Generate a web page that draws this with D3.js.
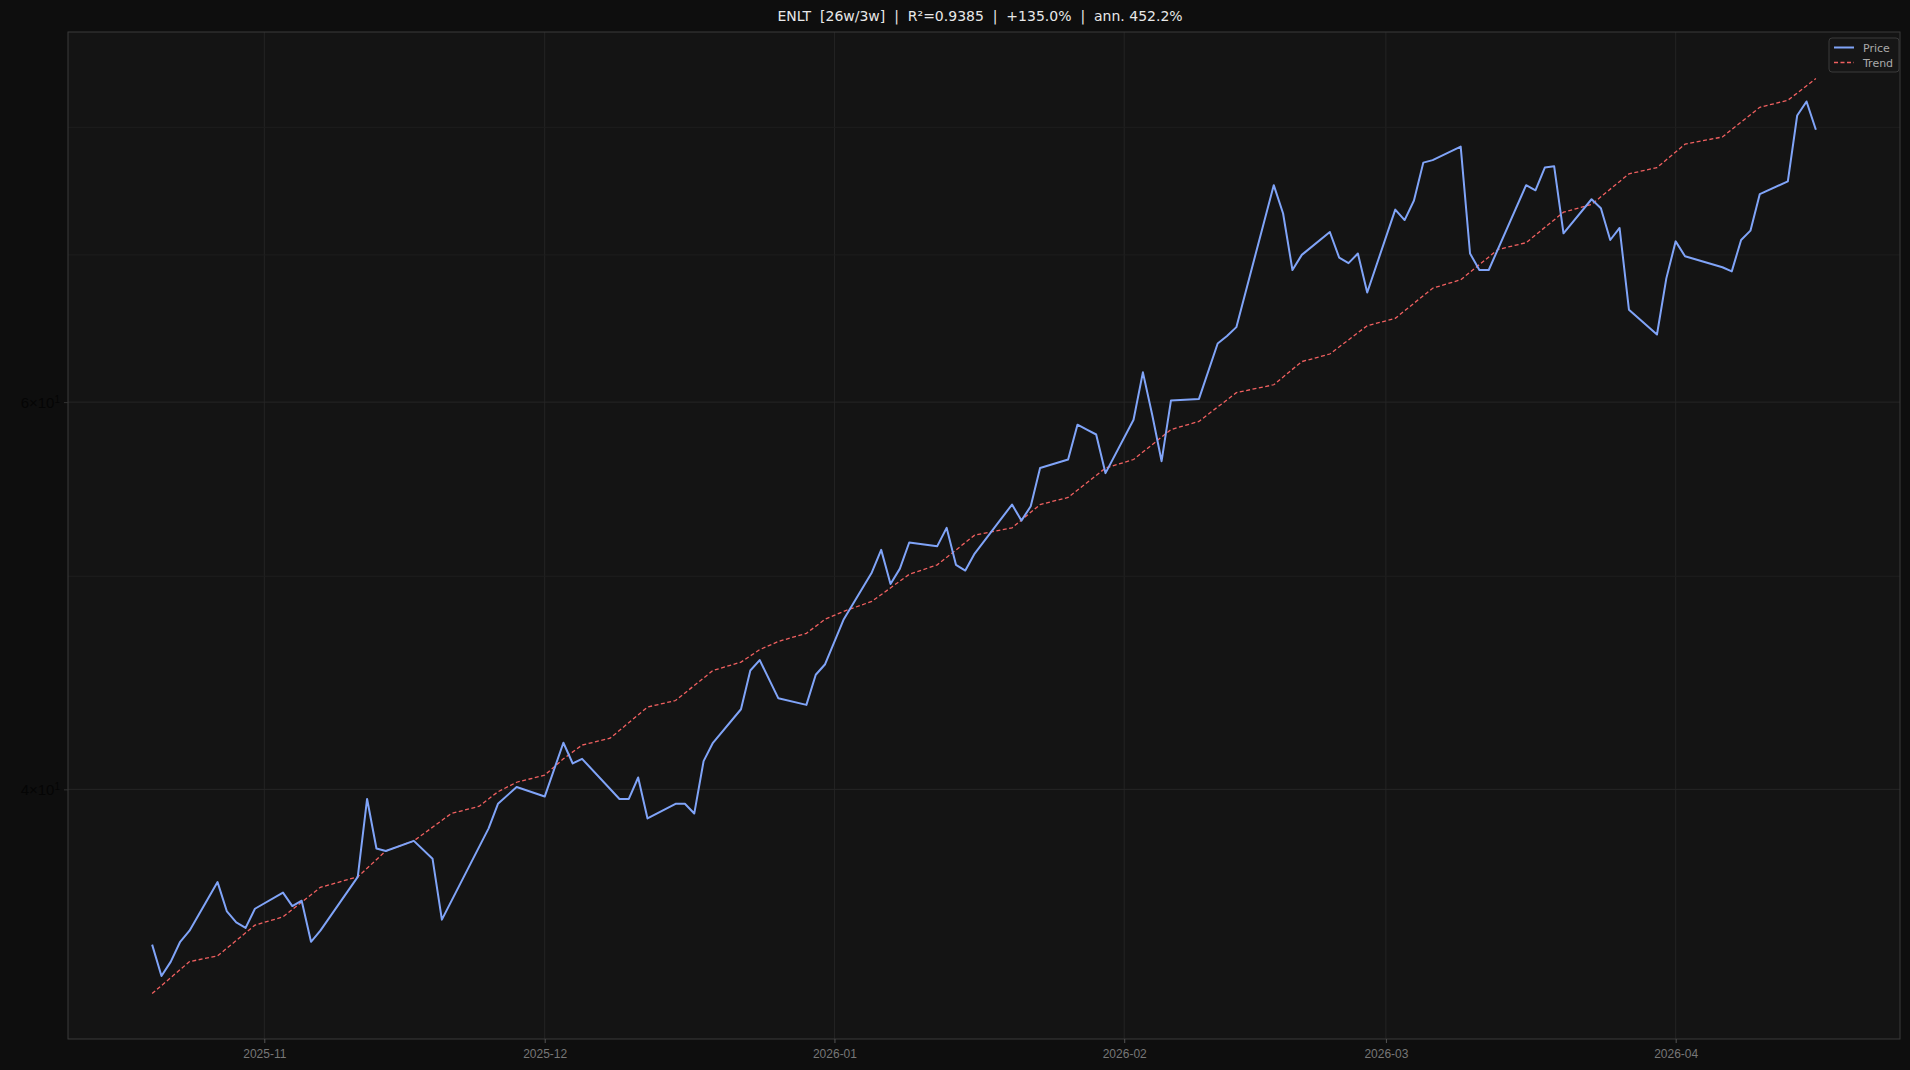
<!DOCTYPE html>
<html><head><meta charset="utf-8">
<script src="https://cdn.jsdelivr.net/npm/d3@7"></script>
<style>
body{margin:0;background:#0e0e0e;}
svg{display:block;font-family:"DejaVu Sans",sans-serif;}
</style></head><body>
<script>
var priceDates = ["2025-10-20","2025-10-21","2025-10-22","2025-10-23","2025-10-24","2025-10-27","2025-10-28","2025-10-29","2025-10-30","2025-10-31",
"2025-11-03","2025-11-04","2025-11-05","2025-11-06","2025-11-07","2025-11-11","2025-11-12","2025-11-13","2025-11-14","2025-11-17","2025-11-19","2025-11-20","2025-11-25","2025-11-26","2025-11-28",
"2025-12-01","2025-12-03","2025-12-04","2025-12-05","2025-12-09","2025-12-10","2025-12-11","2025-12-12","2025-12-15","2025-12-16","2025-12-17","2025-12-18","2025-12-19","2025-12-22","2025-12-23","2025-12-24","2025-12-26","2025-12-29","2025-12-30","2025-12-31",
"2026-01-02","2026-01-05","2026-01-06","2026-01-07","2026-01-08","2026-01-09","2026-01-12","2026-01-13","2026-01-14","2026-01-15","2026-01-16","2026-01-20","2026-01-21","2026-01-22","2026-01-23","2026-01-26","2026-01-27","2026-01-28","2026-01-29","2026-01-30",
"2026-02-02","2026-02-03","2026-02-04","2026-02-05","2026-02-06","2026-02-09","2026-02-11","2026-02-12","2026-02-13","2026-02-17","2026-02-18","2026-02-19","2026-02-20","2026-02-23","2026-02-24","2026-02-25","2026-02-26","2026-02-27",
"2026-03-02","2026-03-03","2026-03-04","2026-03-05","2026-03-06","2026-03-09","2026-03-10","2026-03-11","2026-03-12","2026-03-16","2026-03-17","2026-03-18","2026-03-19","2026-03-20","2026-03-23","2026-03-24","2026-03-25","2026-03-26","2026-03-27","2026-03-30","2026-03-31",
"2026-04-01","2026-04-02","2026-04-06","2026-04-07","2026-04-08","2026-04-09","2026-04-10","2026-04-13","2026-04-14","2026-04-15","2026-04-16"];
var priceValues = [34.0,32.9,33.4,34.1,34.5,36.3,35.2,34.8,34.6,35.3,
35.9,35.4,35.6,34.1,34.5,36.5,39.6,37.6,37.5,37.9,37.2,34.9,38.4,39.4,40.1,
39.7,42.0,41.1,41.3,39.6,39.6,40.5,38.8,39.4,39.4,39.0,41.2,42.0,43.5,45.3,45.8,44.0,43.7,45.1,45.6,
47.8,50.2,51.4,49.6,50.4,51.8,51.6,52.6,50.6,50.3,51.2,53.9,53.0,53.8,56.0,56.5,58.6,58.3,58.0,55.7,
58.9,61.9,59.2,56.4,60.1,60.2,63.8,64.3,64.9,75.3,73.1,68.9,70.0,71.7,69.8,69.4,70.1,67.3,
73.4,72.6,74.1,77.1,77.3,78.4,70.1,68.9,68.9,75.3,74.9,76.7,76.8,71.6,74.2,73.5,71.1,72.0,66.1,64.4,68.3,
71.0,69.9,69.1,68.8,71.1,71.8,74.6,75.6,81.0,82.2,79.8];

var trendDates = ["2025-10-20","2025-10-24","2025-10-27","2025-10-31","2025-11-03","2025-11-07","2025-11-11","2025-11-14","2025-11-17","2025-11-21","2025-11-24","2025-11-26","2025-11-28",
"2025-12-01","2025-12-03","2025-12-05","2025-12-08","2025-12-12","2025-12-15","2025-12-19","2025-12-22","2025-12-24","2025-12-26","2025-12-29","2025-12-31",
"2026-01-02","2026-01-05","2026-01-09","2026-01-12","2026-01-16","2026-01-20","2026-01-23","2026-01-26","2026-01-30",
"2026-02-02","2026-02-06","2026-02-09","2026-02-13","2026-02-17","2026-02-20","2026-02-23","2026-02-27",
"2026-03-02","2026-03-06","2026-03-09","2026-03-13","2026-03-16","2026-03-20","2026-03-23","2026-03-27","2026-03-30",
"2026-04-02","2026-04-06","2026-04-10","2026-04-13","2026-04-16"];
var trendValues = [32.3,33.4,33.6,34.7,35.0,36.1,36.5,37.5,37.9,39.0,39.3,39.9,40.3,
40.6,41.3,41.9,42.2,43.6,43.9,45.3,45.7,46.3,46.7,47.1,47.8,
48.2,48.7,50.1,50.6,52.2,52.6,53.9,54.3,56.0,
56.5,58.3,58.8,60.6,61.1,62.6,63.1,65.0,
65.5,67.6,68.2,70.4,70.9,73.2,73.8,76.2,76.7,
78.6,79.2,81.7,82.3,84.2];

var xTicks = ["2025-11-01","2025-12-01","2026-01-01","2026-02-01","2026-03-01","2026-04-01"];
var yMajor = [40, 60];
var yMinor = [50, 70, 80];
var title = "ENLT  [26w/3w]  |  R\u00b2=0.9385  |  +135.0%  |  ann. 452.2%";

var W = 1910, H = 1070, m = {l:68, r:10, t:32, b:31};
var parse = d3.utcParse("%Y-%m-%d");
var price = priceDates.map(function(d,i){ return {d:parse(d), v:priceValues[i]}; });
var trend = trendDates.map(function(d,i){ return {d:parse(d), v:trendValues[i]}; });

var x = d3.scaleUtc().domain([parse("2025-10-11"), parse("2026-04-25")]).range([m.l, W-m.r]);
var y = d3.scaleLog().domain([30.8, 88.4]).range([H-m.b, m.t]);

var svg = d3.select("body").append("svg").attr("width",W).attr("height",H);
svg.append("rect").attr("x",m.l).attr("y",m.t).attr("width",W-m.l-m.r).attr("height",H-m.t-m.b).attr("fill","#141414");

var g = svg.append("g");
g.selectAll(".vg").data(xTicks).enter().append("line")
  .attr("x1",function(d){return x(parse(d));}).attr("x2",function(d){return x(parse(d));})
  .attr("y1",m.t).attr("y2",H-m.b).attr("stroke","#242424");
g.selectAll(".hg").data(yMajor.concat(yMinor)).enter().append("line")
  .attr("x1",m.l).attr("x2",W-m.r).attr("y1",function(d){return y(d);}).attr("y2",function(d){return y(d);})
  .attr("stroke",function(d){return yMajor.indexOf(d)>=0?"#262626":"#1e1e1e";});

svg.append("rect").attr("x",m.l).attr("y",m.t).attr("width",W-m.l-m.r).attr("height",H-m.t-m.b)
  .attr("fill","none").attr("stroke","#3a3a3a");

var xa = svg.append("g").attr("transform","translate(0,"+(H-m.b)+")")
  .call(d3.axisBottom(x).tickValues(xTicks.map(parse)).tickFormat(d3.utcFormat("%Y-%m")).tickSize(4).tickPadding(6));
xa.select(".domain").remove();
xa.selectAll("line").attr("stroke","#555");
xa.selectAll("text").attr("fill","#777").style("font-size","12px");

var ya = svg.append("g").attr("transform","translate("+m.l+",0)")
  .call(d3.axisLeft(y).tickValues(yMajor).tickFormat("").tickSize(4));
ya.select(".domain").remove();
ya.selectAll("line").attr("stroke","#333");
ya.selectAll(".tick").each(function(d){
  var t = d3.select(this).append("text").attr("x",-8).attr("dy","0.35em").attr("text-anchor","end")
    .attr("fill","#050505").style("font-size","15px");
  t.append("tspan").text((d/10)+"\u00d710");
  t.append("tspan").attr("dy","-0.5em").style("font-size","10px").text("1");
});

var line = d3.line().x(function(d){return x(d.d);}).y(function(d){return y(d.v);});
svg.append("path").datum(trend).attr("d",line).attr("fill","none").attr("stroke","#f06060")
  .attr("stroke-width",1.3).attr("stroke-dasharray","4,2.5");
svg.append("path").datum(price).attr("d",line).attr("fill","none").attr("stroke","#80a4f8")
  .attr("stroke-width",2).attr("stroke-linejoin","round");

svg.append("text").attr("x",W/2+25).attr("y",21).attr("text-anchor","middle")
  .style("white-space","pre").attr("xml:space","preserve")
  .attr("fill","#e8e8e8").style("font-size","14px").text(title);

var lg = svg.append("g").attr("transform","translate("+(W-m.r-71)+","+(m.t+6)+")");
lg.append("rect").attr("width",70).attr("height",34).attr("rx",3).attr("fill","#161616").attr("stroke","#3a3a3a");
lg.append("line").attr("x1",5).attr("x2",25).attr("y1",9.5).attr("y2",9.5).attr("stroke","#80a4f8").attr("stroke-width",2);
lg.append("line").attr("x1",5).attr("x2",25).attr("y1",24.5).attr("y2",24.5).attr("stroke","#f06060").attr("stroke-width",1.3).attr("stroke-dasharray","4,2.5");
lg.append("text").attr("x",34).attr("y",13.5).attr("fill","#aaa").style("font-size","11px").text("Price");
lg.append("text").attr("x",34).attr("y",28.5).attr("fill","#aaa").style("font-size","11px").text("Trend");
</script>
</body></html>
